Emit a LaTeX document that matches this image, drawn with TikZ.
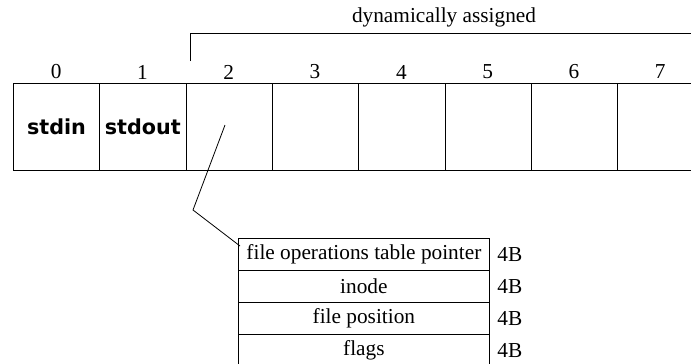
\documentclass[tikz,border=0pt]{standalone}
\usepackage{fontspec}
\setmainfont{Liberation Serif}
\newfontfamily\cellfont{DejaVu Sans}
\usetikzlibrary{calc}
\begin{document}
\begin{tikzpicture}[x=1pt,y=-1pt,
  line width=0.8pt,
  cell/.style={draw, rectangle, minimum width=86.3pt, minimum height=87pt, inner sep=0pt, anchor=north west, font=\cellfont\bfseries\fontsize{20.7}{22}\selectfont},
  idx/.style={font=\fontsize{21.3}{23}\selectfont, inner sep=0pt},
  row/.style={draw, rectangle, minimum width=251pt, minimum height=32pt, inner sep=0pt, anchor=north west, font=\fontsize{21.3}{23}\selectfont},
  size/.style={font=\fontsize{21.3}{23}\selectfont, inner sep=0pt}]
\useasboundingbox (0,0) rectangle (691,364);
\clip (0,0) rectangle (691,364);
% cells
\foreach \i/\t in {0/stdin,1/stdout,2/,3/,4/,5/,6/,7/} {
  \node[cell] (c\i) at ({13+86.3*\i},83) {\t};
  \node[idx] (n\i) at ({13+86.3*\i+43.15},72) {\i};
}
% bracket
\coordinate (b0) at (190,61);
\coordinate (b1) at (190,33);
\coordinate (b2) at (700,33);
\draw (b0) -- (b1) -- (b2);
\node[idx] (dyn) at (444,17) {dynamically assigned};
% table
\node[row] (r1) at (238,238) {file operations table pointer};
\node[row] (r2) at (238,270) {inode};
\node[row] (r3) at (238,302) {file position};
\node[row] (r4) at (238,334) {flags};
\foreach \k in {1,...,4} {
  \node[size] (s\k) at ($(r\k.east)+(20,0)$) {4B};
}
% connector
\coordinate (p) at (225,125);
\coordinate (bend) at (193,210);
\coordinate (q) at ($(r1.north west)+(2,8)$);
\draw (p) -- (bend) -- (q);
\end{tikzpicture}
\end{document}
